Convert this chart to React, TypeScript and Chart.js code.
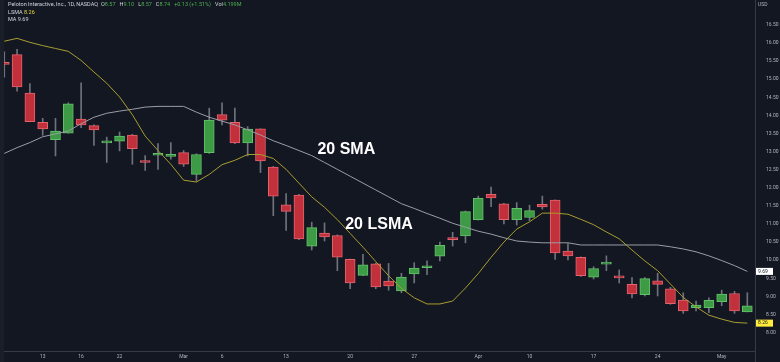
import React, { useEffect, useRef } from 'react';
import { Chart, registerables } from 'chart.js';

Chart.register(...registerables);

// ---- data ----
const dates = [
  'Feb 8', 'Feb 9', 'Feb 10', 'Feb 13', 'Feb 14', 'Feb 15', 'Feb 16', 'Feb 17', 'Feb 21', 'Feb 22',
  'Feb 23', 'Feb 24', 'Feb 27', 'Feb 28', 'Mar 1', 'Mar 2', 'Mar 3', 'Mar 6', 'Mar 7', 'Mar 8',
  'Mar 9', 'Mar 10', 'Mar 13', 'Mar 14', 'Mar 15', 'Mar 16', 'Mar 17', 'Mar 20', 'Mar 21', 'Mar 22',
  'Mar 23', 'Mar 24', 'Mar 27', 'Mar 28', 'Mar 29', 'Mar 30', 'Mar 31', 'Apr 3', 'Apr 4', 'Apr 5',
  'Apr 6', 'Apr 10', 'Apr 11', 'Apr 12', 'Apr 13', 'Apr 14', 'Apr 17', 'Apr 18', 'Apr 19', 'Apr 20',
  'Apr 21', 'Apr 24', 'Apr 25', 'Apr 26', 'Apr 27', 'Apr 28', 'May 1', 'May 2', 'May 3',
];

const opens = [
  15.47, 15.68, 14.62, 13.81, 13.33, 13.51, 13.90, 13.72, 13.24, 13.29,
  13.46, 12.75, 12.90, 12.87, 12.97, 12.37, 12.97, 14.02, 13.81, 13.24,
  13.63, 12.57, 11.53, 11.80, 10.39, 10.75, 10.68, 10.02, 9.58, 9.90,
  9.42, 9.15, 9.62, 9.79, 10.11, 10.59, 10.67, 11.12, 11.82, 11.56,
  11.12, 11.18, 11.54, 11.66, 10.25, 10.08, 9.53, 9.89, 9.53, 9.33,
  9.05, 9.43, 9.21, 8.90, 8.69, 8.69, 8.85, 9.08, 8.57,
];
const highs = [
  15.76, 15.83, 14.88, 13.92, 13.92, 14.35, 14.90, 13.74, 13.40, 13.54,
  13.48, 12.89, 13.22, 13.25, 13.03, 12.94, 14.20, 14.35, 14.20, 13.69,
  13.63, 12.59, 11.84, 11.82, 11.05, 11.03, 10.70, 10.03, 10.16, 9.92,
  9.91, 9.64, 9.93, 9.98, 10.50, 10.77, 11.36, 11.77, 12.02, 11.57,
  11.59, 11.52, 11.77, 11.67, 10.46, 10.09, 9.82, 10.12, 9.73, 9.52,
  9.52, 9.64, 9.25, 9.10, 8.87, 8.96, 9.17, 9.14, 9.10,
];
const lows = [
  15.06, 14.67, 13.83, 13.45, 12.88, 13.51, 13.66, 13.17, 12.70, 13.02,
  12.65, 12.48, 12.51, 12.79, 12.59, 12.18, 12.95, 13.74, 13.22, 12.88,
  12.42, 11.23, 10.82, 10.57, 10.28, 10.53, 9.71, 9.21, 9.57, 9.21,
  9.17, 9.10, 9.37, 9.60, 9.98, 10.39, 10.48, 11.11, 11.48, 11.00,
  10.97, 11.09, 11.41, 10.02, 10.01, 9.55, 9.48, 9.71, 9.37, 8.96,
  9.01, 9.01, 8.78, 8.53, 8.60, 8.55, 8.74, 8.53, 8.57,
];
const closes = [
  15.41, 14.79, 13.83, 13.63, 13.57, 14.32, 13.74, 13.60, 13.26, 13.43,
  13.08, 12.70, 12.95, 12.92, 12.65, 12.92, 13.87, 13.87, 13.24, 13.62,
  12.74, 11.77, 11.35, 10.59, 10.90, 10.64, 10.08, 9.37, 9.87, 9.26,
  9.29, 9.53, 9.78, 9.81, 10.41, 10.57, 11.34, 11.71, 11.72, 11.12,
  11.43, 11.37, 11.47, 10.20, 10.12, 9.57, 9.77, 9.91, 9.51, 9.07,
  9.49, 9.33, 8.80, 8.60, 8.76, 8.89, 9.06, 8.60, 8.74,
];

// 20-period simple moving average (MA)
const smaValues = [
  12.95, 13.11, 13.25, 13.41, 13.49, 13.57, 13.77, 13.95, 14.06, 14.12,
  14.17, 14.23, 14.25, 14.25, 14.25, 14.09, 13.95, 13.84, 13.74, 13.60,
  13.46, 13.30, 13.17, 13.03, 12.89, 12.70, 12.51, 12.32, 12.13, 11.94,
  11.75, 11.56, 11.43, 11.29, 11.16, 11.02, 10.91, 10.80, 10.72, 10.62,
  10.53, 10.50, 10.48, 10.48, 10.48, 10.42, 10.42, 10.42, 10.42, 10.42,
  10.42, 10.42, 10.37, 10.31, 10.23, 10.12, 9.99, 9.85, 9.69,
];
// 20-period least squares moving average (LSMA)
const lsmaValues = [
  16.05, 16.13, 16.02, 15.93, 15.85, 15.77, 15.52, 15.20, 14.89, 14.51,
  14.02, 13.43, 13.03, 12.65, 12.21, 12.16, 12.37, 12.64, 12.76, 12.92,
  12.92, 12.81, 12.51, 12.13, 11.75, 11.46, 11.12, 10.74, 10.36, 9.96,
  9.57, 9.22, 8.96, 8.79, 8.79, 8.87, 9.23, 9.63, 10.08, 10.50,
  10.86, 11.06, 11.30, 11.30, 11.27, 11.13, 10.98, 10.78, 10.59, 10.28,
  9.98, 9.71, 9.34, 8.97, 8.71, 8.48, 8.37, 8.28, 8.26,
];

const xTickDates = ['Feb 13', 'Feb 16', 'Feb 22', 'Mar 1', 'Mar 6', 'Mar 13', 'Mar 20', 'Mar 27', 'Apr 3', 'Apr 10', 'Apr 17', 'Apr 24', 'May 1'];
const xTickLabels = ['13', '16', '22', 'Mar', '6', '13', '20', '27', 'Apr', '10', '17', '24', 'May'];
const yTickValues = [8.0, 8.5, 9.0, 9.5, 10.0, 10.5, 11.0, 11.5, 12.0, 12.5, 13.0, 13.5, 14.0, 14.5, 15.0, 15.5, 16.0, 16.5];

const titleText = 'Peloton Interactive, Inc., 1D, NASDAQ';
const ohlcText = [
  ['O', '8.57'], ['H', '9.10'], ['L', '8.57'], ['C', '8.74'], ['', '+0.13 (+1.51%)'], ['Vol', '4.199M'],
];
const lastSma = 9.69;
const lastLsma = 8.26;
const annotations = [
  { text: '20 SMA', at: 'Mar 17', dx: 0.7, price: 13.06 },
  { text: '20 LSMA', at: 'Mar 22', dx: 0.25, price: 10.99 },
];

// ---- styles ----
const BG = '#131722';
const AXIS_TEXT = '#b2b5be';
const LINE_COL = '#363a45';
const UP_FILL = '#3d9b45';
const UP_BORDER = '#63c068';
const DOWN_FILL = '#c2303b';
const DOWN_BORDER = '#e3646c';
const WICK = '#6e727c';
const SMA_COL = '#9a9da6';
const LSMA_COL = '#a99d2f';
const FONT = 'Roboto, "Liberation Sans", sans-serif';

const overlayPlugin = {
  id: 'overlay',
  beforeDraw(chart: any) {
    const { ctx, width, height } = chart;
    ctx.save();
    ctx.fillStyle = BG;
    ctx.fillRect(0, 0, width, height);
    ctx.fillStyle = '#1a1e29';
    ctx.fillRect(0, 0, 4, height);
    ctx.restore();
  },
  afterDraw(chart: any) {
    const { ctx, chartArea, height } = chart;
    const xs = chart.scales.x;
    const ys = chart.scales.y;
    ctx.save();
    // axis separators
    ctx.strokeStyle = LINE_COL;
    ctx.lineWidth = 1;
    ctx.beginPath();
    ctx.moveTo(Math.round(chartArea.right) + 0.5, 0);
    ctx.lineTo(Math.round(chartArea.right) + 0.5, height);
    ctx.moveTo(4, Math.round(chartArea.bottom) + 0.5);
    ctx.lineTo(chartArea.right, Math.round(chartArea.bottom) + 0.5);
    ctx.stroke();

    // x-axis tick labels, from the x scale's own ticks
    ctx.font = `5px ${FONT}`;
    ctx.fillStyle = AXIS_TEXT;
    ctx.textAlign = 'center';
    ctx.textBaseline = 'middle';
    for (const t of xs.ticks) {
      const lbl = t.label;
      if (lbl) ctx.fillText(String(lbl), xs.getPixelForValue(t.value), chartArea.bottom + 6);
    }

    // header
    ctx.font = `5.5px ${FONT}`;
    ctx.textAlign = 'left';
    let x = 8;
    ctx.fillStyle = '#d1d4dc';
    ctx.fillText(titleText, x, 5);
    x += ctx.measureText(titleText).width + 3;
    for (const [k, v] of ohlcText) {
      if (k) {
        ctx.fillStyle = '#d1d4dc';
        ctx.fillText(k, x, 5);
        x += ctx.measureText(k).width;
      }
      ctx.fillStyle = '#4caf50';
      ctx.fillText(v, x, 5);
      x += ctx.measureText(v).width + 4;
    }
    ctx.fillStyle = '#d1d4dc';
    ctx.fillText('LSMA', 8, 12.5);
    const lw = ctx.measureText('LSMA ').width;
    ctx.fillStyle = '#e8d93a';
    ctx.fillText(lastLsma.toFixed(2), 8 + lw, 12.5);
    ctx.fillStyle = '#d1d4dc';
    ctx.fillText('MA', 8, 19.5);
    const mw = ctx.measureText('MA ').width;
    ctx.fillText(lastSma.toFixed(2), 8 + mw, 19.5);

    // USD
    ctx.font = `5px ${FONT}`;
    ctx.fillStyle = AXIS_TEXT;
    ctx.fillText('USD', chartArea.right + 3, 5);

    // price boxes
    const box = (price: number, bg: string) => {
      const y = ys.getPixelForValue(price);
      ctx.fillStyle = bg;
      ctx.fillRect(chartArea.right + 1, y - 3.5, 17, 7);
      ctx.fillStyle = '#131722';
      ctx.fillText(price.toFixed(2), chartArea.right + 3, y);
    };
    box(lastSma, '#ffffff');
    box(lastLsma, '#ffeb3b');

    // annotations
    ctx.font = `bold 16px "Liberation Sans", Arial, sans-serif`;
    ctx.fillStyle = '#ffffff';
    ctx.textAlign = 'center';
    for (const a of annotations) {
      const idx = dates.indexOf(a.at) + a.dx;
      ctx.fillText(a.text, xs.getPixelForValue(idx), ys.getPixelForValue(a.price));
    }
    ctx.restore();
  },
};

export default function App() {
  const ref = useRef<HTMLCanvasElement | null>(null);

  useEffect(() => {
    document.body.style.margin = '0';
    document.body.style.background = BG;
    const canvas = ref.current;
    if (!canvas) return;

    const up = closes.map((c, i) => c >= opens[i]);
    const tickIdx = xTickDates.map((d) => dates.indexOf(d));
    const tickMap: Record<string, string> = {};
    tickIdx.forEach((t, i) => (tickMap[String(t)] = xTickLabels[i]));

    const chart = new Chart(canvas, {
      type: 'bar',
      data: {
        datasets: [
          {
            type: 'line',
            label: 'LSMA',
            data: lsmaValues.map((v, i) => ({ x: i, y: v })),
            borderColor: LSMA_COL,
            borderWidth: 1,
            pointRadius: 0,
            tension: 0,
            order: 0,
          } as any,
          {
            type: 'line',
            label: 'MA',
            data: smaValues.map((v, i) => ({ x: i, y: v })),
            borderColor: SMA_COL,
            borderWidth: 1,
            pointRadius: 0,
            tension: 0,
            order: 0,
          } as any,
          {
            type: 'bar',
            label: 'body',
            data: opens.map((o, i) => ({ x: i, y: [o, closes[i]] })),
            backgroundColor: up.map((u) => (u ? UP_FILL : DOWN_FILL)),
            borderColor: up.map((u) => (u ? UP_BORDER : DOWN_BORDER)),
            borderWidth: 1,
            borderSkipped: false,
            barThickness: 10,
            minBarLength: 2,
            grouped: false,
            order: 1,
          } as any,
          {
            type: 'bar',
            label: 'wick',
            data: lows.map((l, i) => ({ x: i, y: [l, highs[i]] })),
            backgroundColor: WICK,
            borderWidth: 0,
            barThickness: 1,
            grouped: false,
            order: 2,
          } as any,
        ],
      },
      options: {
        animation: false,
        responsive: false,
        maintainAspectRatio: false,
        devicePixelRatio: 1,
        layout: { padding: { left: 4, top: 0, right: 0, bottom: 0 } },
        plugins: { legend: { display: false }, tooltip: { enabled: false } },
        scales: {
          x: {
            type: 'linear',
            min: -0.02,
            max: 58.6,
            offset: false,
            grid: { display: false },
            border: { display: false },
            afterBuildTicks: (s: any) => {
              s.ticks = tickIdx.map((v) => ({ value: v }));
            },
            afterFit: (s: any) => {
              s.height = 11;
            },
            ticks: {
              display: false,
              autoSkip: false,
              maxRotation: 0,
              callback: (v: any) => tickMap[String(v)] ?? '',
            },
          },
          y: {
            position: 'right',
            min: 7.49,
            max: 17.024,
            grid: { display: false },
            border: { display: false },
            afterBuildTicks: (s: any) => {
              s.ticks = yTickValues.map((v) => ({ value: v }));
            },
            afterFit: (s: any) => {
              s.width = 25;
            },
            ticks: {
              padding: 3,
              color: AXIS_TEXT,
              font: { size: 5, family: FONT },
              callback: (v: any) => Number(v).toFixed(2),
            },
          },
        },
      } as any,
      plugins: [overlayPlugin],
    });

    return () => chart.destroy();
  }, []);

  return (
    <div style={{ width: 780, height: 362, background: BG }}>
      <canvas ref={ref} width={780} height={362} style={{ display: 'block', width: 780, height: 362 }} />
    </div>
  );
}
